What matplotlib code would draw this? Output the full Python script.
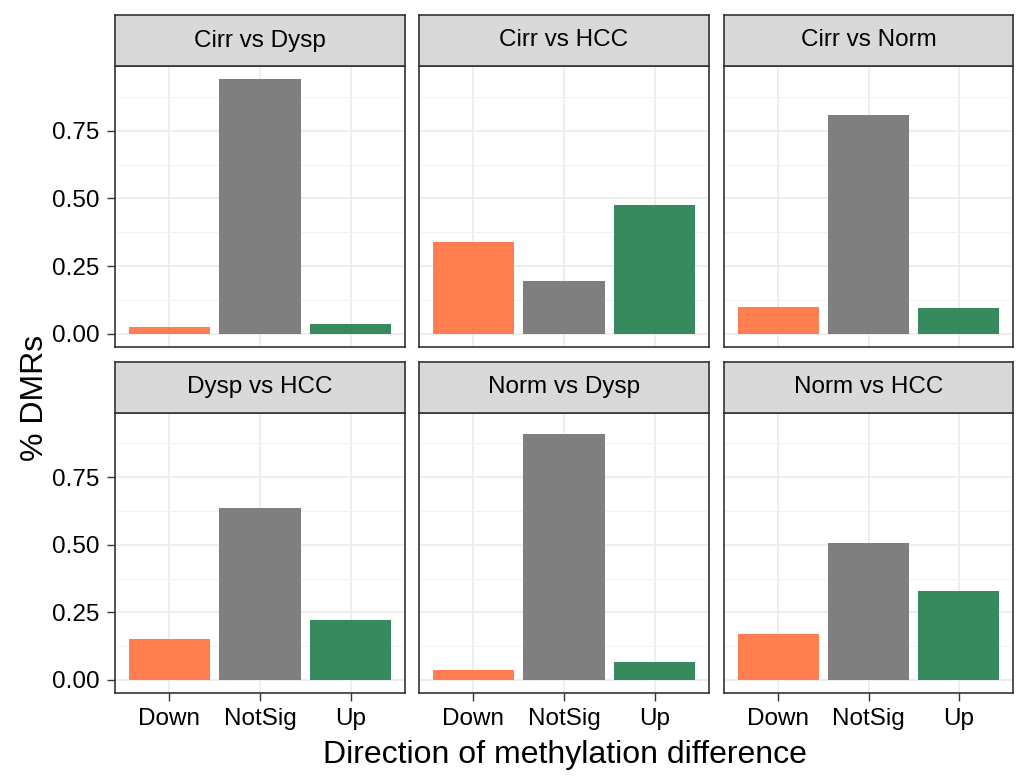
import matplotlib
matplotlib.use("Agg")
import matplotlib.pyplot as plt
import numpy as np

plt.rcParams['font.family'] = ['Liberation Sans', 'DejaVu Sans']

# данные: доли DMR по направлению разницы метилирования
comparisons = ["Cirr vs Dysp", "Cirr vs HCC", "Cirr vs Norm",
               "Dysp vs HCC", "Norm vs Dysp", "Norm vs HCC"]
directions = ["Down", "NotSig", "Up"]
down = [0.025, 0.340, 0.100, 0.152, 0.037, 0.170]
notsig = [0.942, 0.195, 0.810, 0.635, 0.909, 0.505]
up = [0.037, 0.476, 0.095, 0.222, 0.065, 0.328]
yticks = [0.00, 0.25, 0.50, 0.75]
colors = ["#FF7F50", "#7F7F7F", "#378A5E"]

W, H = 1028, 778
fig = plt.figure(figsize=(W / 100, H / 100), dpi=100)

# границы панелей в пикселях
col_x = [(115, 405), (419, 709), (724, 1013)]
row_y = [(15, 66, 346.7), (362, 412.5, 692.7)]  # верх полосы, верх панели, низ панели

ymax = max(max(down), max(notsig), max(up))
ylo, yhi = -0.05 * ymax, ymax * 1.05

for i, name in enumerate(comparisons):
    r, c = divmod(i, 3)
    x0, x1 = col_x[c]
    st, pt, pb = row_y[r]
    ax = fig.add_axes([x0 / W, 1 - pb / H, (x1 - x0) / W, (pb - pt) / H])
    vals = [down[i], notsig[i], up[i]]
    xs = np.arange(1, 4)
    ax.bar(xs, vals, width=0.9, color=colors, zorder=3)
    ax.set_xlim(0.4, 3.6)
    ax.set_ylim(ylo, yhi)
    ax.set_yticks(yticks)
    ax.set_yticks([0.125, 0.375, 0.625, 0.875], minor=True)
    ax.set_xticks(xs)
    ax.grid(which='major', color='#EBEBEB', lw=1.2, zorder=0)
    ax.grid(which='minor', axis='y', color='#F2F2F2', lw=0.7, zorder=0)
    ax.tick_params(which='minor', length=0)
    ax.tick_params(which='major', length=6, width=1, color='#333333',
                   labelsize=17.5, labelcolor='black', pad=5)
    for sp in ax.spines.values():
        sp.set_color('#333333')
        sp.set_linewidth(1.2)
    if c == 0:
        ax.set_yticklabels([f"{v:.2f}" for v in yticks])
    else:
        ax.set_yticklabels([])
        ax.tick_params(axis='y', length=0)
    if r == 1:
        ax.set_xticklabels(directions)
    else:
        ax.set_xticklabels([])
        ax.tick_params(axis='x', length=0)

    # полоса с заголовком фасета
    sax = fig.add_axes([x0 / W, 1 - pt / H, (x1 - x0) / W, (pt - st) / H])
    sax.set_facecolor('#D9D9D9')
    sax.set_xticks([])
    sax.set_yticks([])
    for sp in sax.spines.values():
        sp.set_color('#333333')
        sp.set_linewidth(1.2)
    sax.text(0.5, 0.5, name, ha='center', va='center', fontsize=17.5,
             transform=sax.transAxes)

fig.text(565 / W, 1 - 755 / H, "Direction of methylation difference",
         ha='center', va='center', fontsize=23)
fig.text(35 / W, 1 - 398 / H, "% DMRs", ha='center', va='center',
         fontsize=23, rotation=90)

fig.savefig("out.png", dpi=100)
